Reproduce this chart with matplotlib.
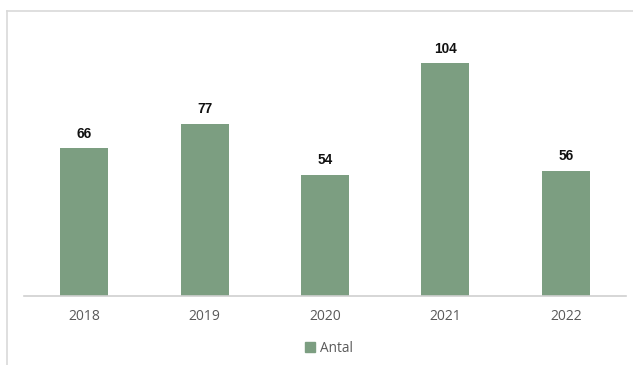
import matplotlib
matplotlib.use("Agg")
import matplotlib.pyplot as plt
from matplotlib.patches import Rectangle
from matplotlib.lines import Line2D

years = ["2018", "2019", "2020", "2021", "2022"]
antal = [66, 77, 54, 104, 56]

bar_color = "#7c9e81"

fig = plt.figure(figsize=(6.33, 3.65), dpi=100)
ax = fig.add_axes([24 / 633, 69.5 / 365, 602 / 633, 267.7 / 365])

x = range(len(years))
bars = ax.bar(x, antal, width=0.4, color=bar_color, label="Antal", zorder=2)
ax.set_xlim(-0.5, len(years) - 0.5)
ax.set_ylim(0, 120)

for rect, val in zip(bars, antal):
    ax.annotate(str(val), (rect.get_x() + rect.get_width() / 2, val),
                xytext=(0, 5.5), textcoords="offset points",
                ha="center", va="bottom", fontsize=9.8, fontweight="bold",
                family="Liberation Sans", color="#111111")

ax.set_xticks(list(x))
ax.set_xticklabels(years, fontsize=10, color="#595959", family="Open Sans")
ax.tick_params(axis="x", length=0, pad=10)
ax.set_yticks([])
for side in ["top", "right", "left"]:
    ax.spines[side].set_visible(False)
ax.spines["bottom"].set_color("#d0d0d0")
ax.spines["bottom"].set_linewidth(1.2)

leg = fig.legend(handles=[Rectangle((0, 0), 1, 1, color=bar_color)], labels=["Antal"],
                 loc="center", bbox_to_anchor=(329 / 633, 1 - 348 / 365),
                 frameon=False, handlelength=0.7, handleheight=0.7, handletextpad=0.4,
                 prop={"family": "Open Sans", "size": 9.8})
for t in leg.get_texts():
    t.set_color("#595959")

# outer chart-area border (top and left edges)
fig.add_artist(Line2D([6.5 / 633, 6.5 / 633], [0, 1 - 11 / 365], color="#d9d9d9", lw=1.2))
fig.add_artist(Line2D([6.5 / 633, 1], [1 - 11 / 365, 1 - 11 / 365], color="#d9d9d9", lw=1.2))

fig.savefig("out.png", dpi=100, facecolor="white")
